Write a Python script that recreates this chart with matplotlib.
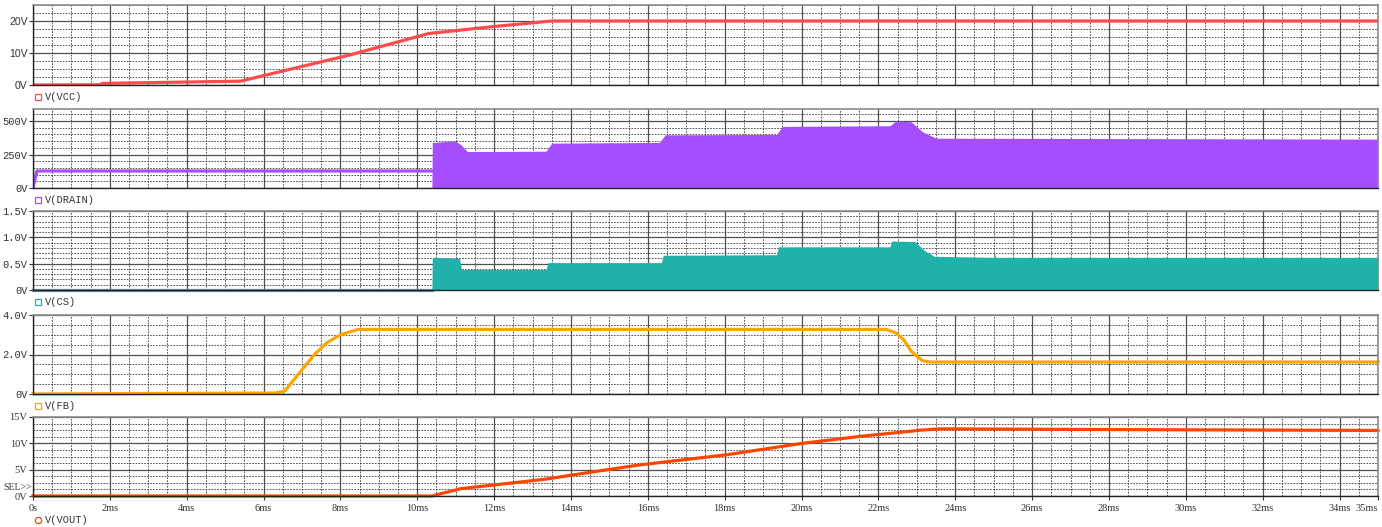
import numpy as np
import matplotlib
matplotlib.use("Agg")
import matplotlib.pyplot as plt
from matplotlib.ticker import MultipleLocator, FixedLocator

# ---- data (time in ms) ----
t_vcc = [0, 1.75, 1.8, 5.4, 8.25, 10.3, 12.1, 13.5, 35]
v_vcc = [0, 0.1, 0.5, 1.2, 9.4, 16.1, 18.4, 20.0, 20.0]

t_drain_pre = [0, 0.1, 10.38]
v_drain_pre = [0, 127, 127]
t_drain_env = [10.38, 10.39, 10.8, 11.0, 11.15, 11.3, 13.35, 13.5, 16.3, 16.45,
               19.35, 19.5, 22.3, 22.45, 22.85, 23.15, 23.5, 35.0]
v_drain_env = [0, 340, 348, 350, 320, 272, 275, 335, 340, 397,
               400, 460, 465, 500, 495, 420, 372, 365]

t_cs_pre = [0, 10.38]
v_cs_pre = [0, 0]
t_cs_env = [10.38, 10.39, 11.1, 11.15, 13.35, 13.4, 16.35, 16.4, 19.35, 19.4,
            22.3, 22.35, 22.95, 23.2, 23.45, 25.0, 25.02, 25.05, 35]
v_cs_env = [0, 0.62, 0.6, 0.39, 0.39, 0.52, 0.52, 0.66, 0.67, 0.82,
            0.82, 0.93, 0.92, 0.75, 0.64, 0.62, 0.71, 0.62, 0.62]

t_fb = [0, 6.3, 6.55, 6.8, 7.07, 7.35, 7.65, 8.0, 8.46, 22.2, 22.45, 22.65,
        22.85, 23.05, 23.15, 23.35, 35]
v_fb = [0, 0.05, 0.15, 0.75, 1.4, 2.05, 2.6, 3.0, 3.27, 3.27, 3.1, 2.76,
        2.17, 1.83, 1.68, 1.62, 1.62]

t_vout = [0, 10.38, 10.7, 11.14, 12.0, 13.34, 14.5, 15.78, 18.02, 20.02,
          21.5, 23.1, 23.6, 28.5, 35]
v_vout = [0, 0, 0.6, 1.4, 2.1, 3.2, 4.5, 5.9, 7.8, 10.0,
          11.3, 12.5, 12.75, 12.6, 12.45]

x_ticks = [0, 2, 4, 6, 8, 10, 12, 14, 16, 18, 20, 22, 24, 26, 28, 30, 32, 34, 35]
x_labels = ["0s"] + ["%dms" % v for v in x_ticks[1:]]

c_vcc = "#ff4b4b"
c_drain = "#a64dff"
c_cs = "#20b2aa"
c_fb = "#ffa500"
c_vout = "#ff4500"

W, H = 1382, 527
fig = plt.figure(figsize=(W / 100, H / 100), dpi=100)

# panel layout in pixels: (top, bottom)
panels = [(5, 85), (109, 188), (211, 290), (315, 394), (417, 496)]
left, right = 33, 1378


def make_ax(top, bot):
    ax = fig.add_axes([left / W, 1 - bot / H, (right - left) / W, (bot - top) / H])
    return ax


def style(ax, ymax, ymajor, yminor, ylabels, font, last=False):
    ax.set_xlim(0, 35)
    ax.set_ylim(0, ymax)
    ax.xaxis.set_major_locator(FixedLocator(x_ticks))
    ax.xaxis.set_minor_locator(MultipleLocator(0.5))
    ax.yaxis.set_major_locator(FixedLocator(ymajor))
    ax.yaxis.set_minor_locator(MultipleLocator(yminor))
    ax.grid(which="minor", color="#3a3a3a", linestyle=(0, (2, 1.5)), linewidth=0.6)
    ax.grid(which="major", color="#505050", linestyle="-", linewidth=0.9)
    ax.set_axisbelow(True)
    ax.tick_params(axis="y", which="major", direction="out", length=3, width=0.8,
                   labelsize=7.5, pad=1, colors="#333333")
    ax.tick_params(axis="y", which="minor", length=0)
    ax.set_yticklabels(ylabels, fontfamily=font)
    if last:
        ax.tick_params(axis="x", which="major", direction="out", length=3, width=0.8,
                       labelsize=7.5, pad=3, colors="#333333")
        labels = ax.set_xticklabels(x_labels, fontfamily="Liberation Serif")
        labels[-1].set_horizontalalignment("right")
    else:
        ax.tick_params(axis="x", which="both", length=0, labelbottom=False)
    ax.tick_params(axis="x", which="minor", length=0)
    for s in ["top", "right"]:
        ax.spines[s].set_color("#8c8c8c")
        ax.spines[s].set_linewidth(1.2)
    for s in ["left", "bottom"]:
        ax.spines[s].set_color("#222222")
        ax.spines[s].set_linewidth(1.0)


def legend(ax, text, color, marker="s", y=-0.15):
    ax.plot([0.0035], [y], marker=marker, ms=4.5, mfc="none", mec=color, mew=0.9,
            transform=ax.transAxes, clip_on=False)
    ax.text(0.009, y, text, transform=ax.transAxes, fontsize=7.5,
            fontfamily="Liberation Mono", color="#333333", va="center", ha="left")


# V(VCC)
ax1 = make_ax(*panels[0])
style(ax1, 25, [0, 10, 20], 2.5, ["0V", "10V", "20V"], "Liberation Sans")
ax1.plot(t_vcc, v_vcc, color=c_vcc, lw=2.3, solid_capstyle="butt")
legend(ax1, "V(VCC)", c_vcc)

# V(DRAIN)
ax2 = make_ax(*panels[1])
style(ax2, 590, [0, 250, 500], 50, ["0V", "250V", "500V"], "Liberation Mono")
ax2.plot(t_drain_pre, v_drain_pre, color=c_drain, lw=2.3)
ax2.fill_between(t_drain_env, -4, v_drain_env, color=c_drain, lw=0)
legend(ax2, "V(DRAIN)", c_drain)

# V(CS)
ax3 = make_ax(*panels[2])
style(ax3, 1.5, [0, 0.5, 1.0, 1.5], 0.1, ["0V", "0.5V", "1.0V", "1.5V"], "Liberation Mono")
ax3.plot(t_cs_pre, v_cs_pre, color=c_cs, lw=2.3, clip_on=False)
ax3.fill_between(t_cs_env, -0.01, v_cs_env, color=c_cs, lw=0)
legend(ax3, "V(CS)", c_cs)

# V(FB)
ax4 = make_ax(*panels[3])
style(ax4, 4.0, [0, 2.0, 4.0], 0.5, ["0V", "2.0V", "4.0V"], "Liberation Mono")
ax4.plot(t_fb, v_fb, color=c_fb, lw=2.3, clip_on=False)
legend(ax4, "V(FB)", c_fb)

# V(VOUT)
ax5 = make_ax(*panels[4])
style(ax5, 15, [0, 5, 10, 15], 1.25, ["0V", "5V", "10V", "15V"], "Liberation Serif", last=True)
ax5.plot(t_vout, v_vout, color=c_vout, lw=2.3, clip_on=False)
legend(ax5, "V(VOUT)", c_vout, marker="o", y=-0.3)
fig.text(3 / W, 1 - 487 / H, "SEL>>", fontsize=7, fontfamily="Liberation Serif",
         color="#333333", va="center", ha="left")

fig.savefig("out.png", dpi=100)
